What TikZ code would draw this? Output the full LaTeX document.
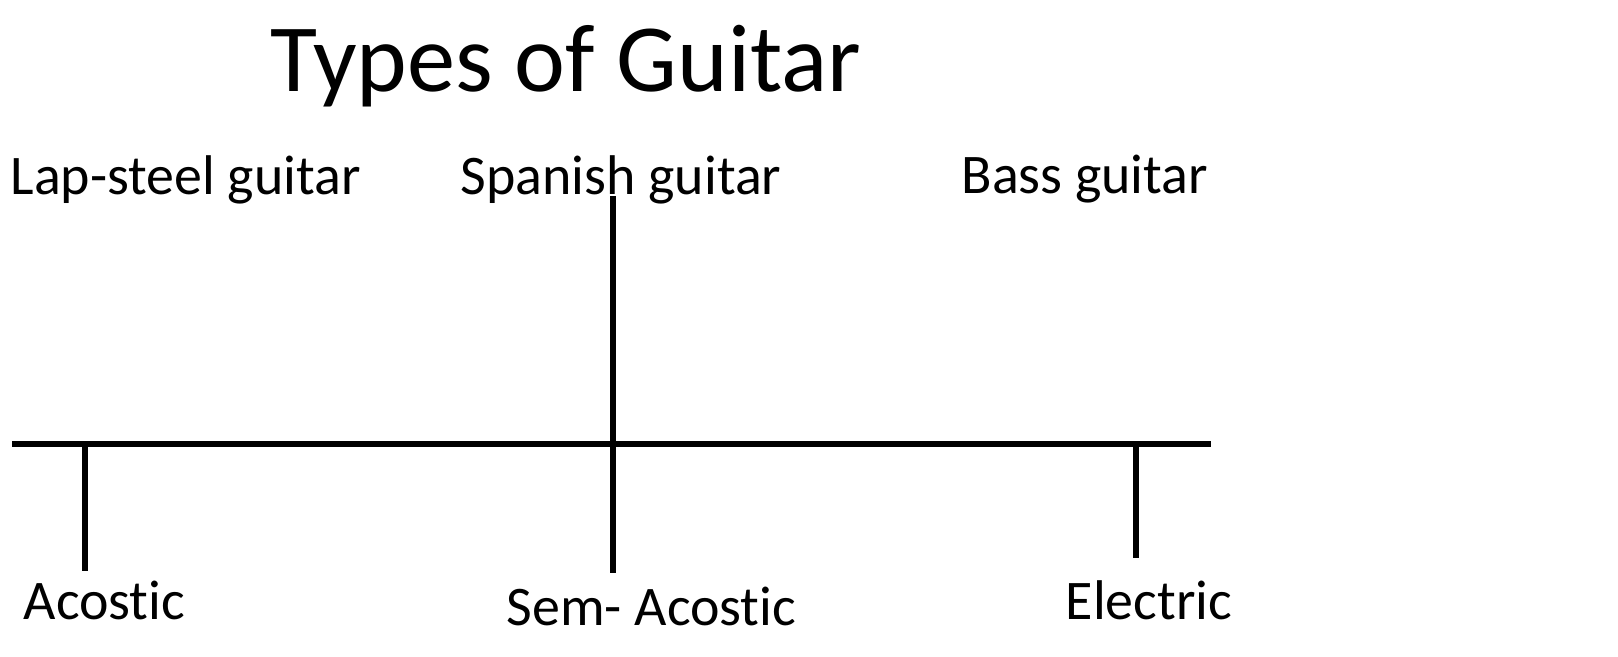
\documentclass[tikz,border=0pt]{standalone}
\usepackage{fontspec}
\setmainfont{Carlito}[Ligatures={NoCommon}]
\usepackage{tikz}
\usetikzlibrary{positioning}

\begin{document}
\begin{tikzpicture}[
  x=0.01cm, y=-0.01cm,
  every node/.style = {inner sep=0pt, anchor=base west},
  heading/.style    = {font=\fontsize{27.4}{30}\selectfont},
  kind/.style       = {font=\fontsize{15.9}{18}\selectfont},
  branch/.style     = {line width=1.8pt},
]
\useasboundingbox (0,0) rectangle (1618,656);
% Title
\node[heading] (title) at (270,91) {Types of Guitar};
% Top row
\node[kind] (lapsteel) at (10,194) {Lap-steel guitar};
\node[kind] (spanish) at (460,194) {Spanish guitar};
\node[kind] (bass) at (961,193) {Bass guitar};
% Bottom row
\node[kind] (acostic) at (23,619) {Acostic};
\node[kind] (semi) at (506,625) {Sem- Acostic};
\node[kind] (electric) at (1065,619) {Electric};
% Bar and stems
\coordinate (barL) at (12,444);
\coordinate (barR) at (1211,444);
\coordinate (stemtop) at (613,196);
\coordinate (stemM) at (613,573);
\coordinate (stemA) at (85,571);
\coordinate (stemE) at (1136,558);
\draw[branch] (barL) -- (barR);
\draw[branch] (stemtop) -- (stemM);
\draw[branch] (barL -| stemA) -- (stemA);
\draw[branch] (barL -| stemE) -- (stemE);
\end{tikzpicture}
\end{document}
